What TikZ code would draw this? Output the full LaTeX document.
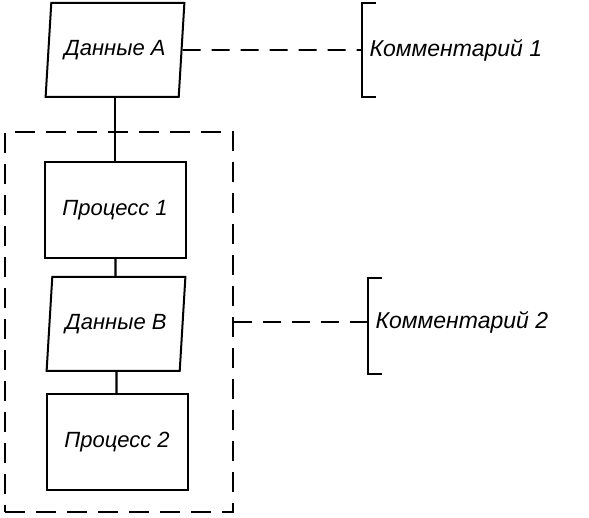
\documentclass[tikz,border=0pt]{standalone}
\usepackage{fontspec}
\setmainfont{Liberation Sans}
\usetikzlibrary{shapes.geometric}
\tikzset{
  data/.style={draw, line width=2pt, trapezium, trapezium stretches=true,
    trapezium left angle=77, trapezium right angle=103,
    minimum width=139, minimum height=94, inner sep=0pt},
  proc/.style={draw, line width=2pt, minimum width=141, minimum height=96, inner sep=0pt},
  grpbox/.style={draw, line width=1.4pt, dash pattern=on 20pt off 11pt},
  link/.style={line width=2.2pt},
  dlink/.style={line width=1.8pt, dash pattern=on 18pt off 11pt},
  brack/.style={line width=2.4pt},
  lbl/.style={font=\fontsize{22}{25}\selectfont\itshape},
  cmt/.style={font=\fontsize{23}{26}\selectfont\itshape},
}
\begin{document}
\begin{tikzpicture}[x=1pt, y=-1pt]
  \useasboundingbox (0,0) rectangle (589,518);
  % group of steps
  \node[grpbox, minimum width=228, minimum height=380] (grp) at (119,322) {};
  % blocks
  \node[data, lbl] (dA) at (115,50) {Данные А};
  \node[proc, lbl] (p1) at (115,210) {Процесс 1};
  \node[data, lbl] (dB) at (116,324) {Данные В};
  \node[proc, lbl] (p2) at (117,442) {Процесс 2};
  \draw[link] (dA) -- (p1);
  \draw[link] (p1) -- (dB);
  \draw[link] (dB) -- (p2);
  % comments
  \coordinate (c1) at (362,50);
  \coordinate (c2) at (368,322);
  \draw[brack] ([xshift=14]c1) ++(0,-47) -- ++(-14,0) -- ++(0,94) -- ++(14,0);
  \draw[brack] ([xshift=14]c2) ++(0,-44) -- ++(-14,0) -- ++(0,96) -- ++(14,0);
  \node[cmt, anchor=west] (k1) at ([xshift=4]c1) {Комментарий 1};
  \node[cmt, anchor=west] (k2) at ([xshift=4]c2) {Комментарий 2};
  \draw[dlink] (dA.east) -- (c1);
  \draw[dlink] (grp.east) -- (c2);
\end{tikzpicture}
\end{document}
